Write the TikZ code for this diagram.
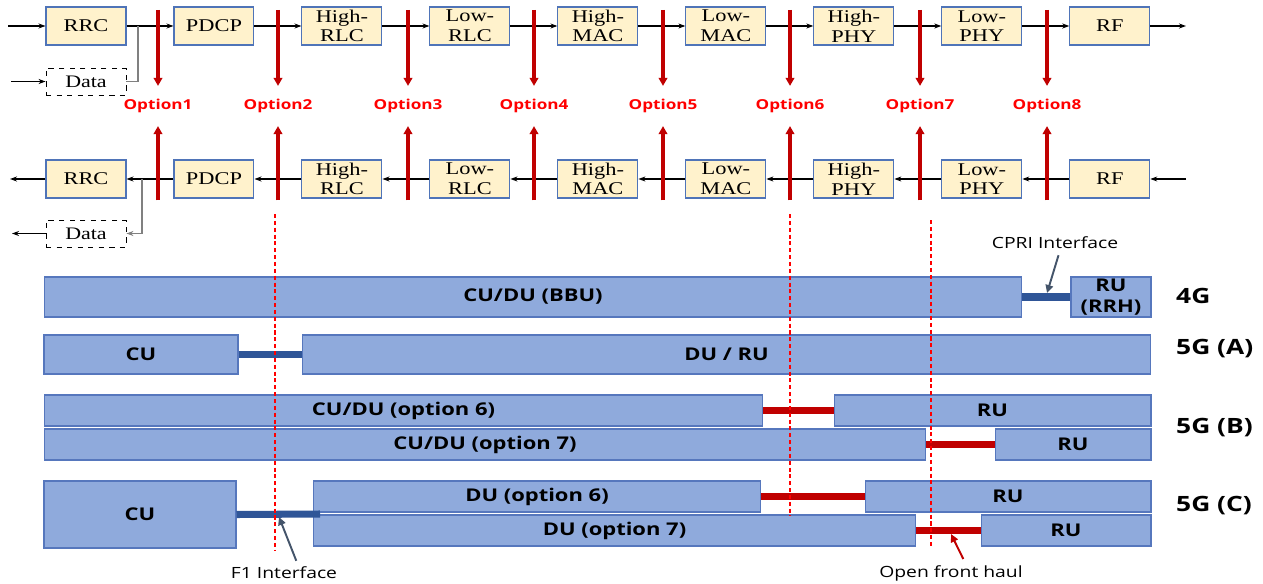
\documentclass[tikz,border=0pt]{standalone}
\usepackage{fontspec}
\setmainfont[FakeStretch=1.25]{Liberation Serif}
\newfontfamily\labelfont[FakeStretch=1.25]{Open Sans}
\usepackage{xcolor}
\usepackage{tikz}
\usetikzlibrary{arrows.meta}
\definecolor{boxfill}{HTML}{FFF2CC}
\definecolor{boxedge}{HTML}{4F74B8}
\definecolor{barfill}{HTML}{8FAADC}
\definecolor{baredge}{HTML}{5677BD}
\definecolor{optred}{HTML}{C00000}
\definecolor{cutred}{HTML}{FF0000}
\definecolor{f1blue}{HTML}{2F5597}
\definecolor{notegray}{HTML}{44546A}
\tikzstyle{layer} = [rectangle, minimum width=1.6cm, minimum height=0.76cm, inner sep=0pt, align=center, draw=boxedge, line width=0.6pt, fill=boxfill, font=\fontsize{10.2}{11.2}\selectfont]
\tikzstyle{datafile} = [rectangle, minimum width=1.6cm, minimum height=0.54cm, inner sep=0pt, draw=black, dashed, line width=0.5pt, fill=white, font=\fontsize{10}{10.5}\selectfont]
\tikzstyle{arrow} = [line width=0.6pt, -{Stealth[length=1.4mm, width=1mm]}]
\tikzstyle{tap} = [line width=0.6pt, draw=gray]
\tikzstyle{optlabel} = [text=cutred, font=\labelfont\bfseries\fontsize{7.8}{9}\selectfont]
\tikzstyle{optarrow} = [line width=2pt, draw=optred, -{Triangle[length=1.6mm, width=1.7mm]}]
\tikzstyle{cut} = [line width=1.1pt, draw=cutred, dash pattern=on 2.3pt off 1.6pt]
\tikzstyle{bar} = [rectangle, draw=baredge, line width=0.6pt, fill=barfill, inner sep=0pt, align=center, font=\labelfont\bfseries\fontsize{10}{12}\selectfont]
\tikzstyle{gen} = [anchor=west, font=\labelfont\bfseries\fontsize{12}{14}\selectfont]
\tikzstyle{f1link} = [line width=4pt, draw=f1blue]
\tikzstyle{fhlink} = [line width=4.2pt, draw=optred]
\tikzstyle{notetext} = [font=\labelfont\fontsize{8.8}{10}\selectfont]
\tikzstyle{note} = [line width=1.1pt, draw=notegray, -{Triangle[length=1.6mm, width=1.5mm]}]

\begin{document}
\begin{tikzpicture}[x=0.02cm, y=-0.02cm, node distance=2.56cm]
    \useasboundingbox (0,0) rectangle (1263,584);

        % Downlink chain
        \node (rrcT) [layer] at (86,26) {RRC};
        \node (pdcpT) [layer, right of=rrcT] {PDCP};
        \node (hrlcT) [layer, right of=pdcpT] {High-\\RLC};
        \node (lrlcT) [layer, right of=hrlcT] {Low-\\RLC};
        \node (hmacT) [layer, right of=lrlcT] {High-\\MAC};
        \node (lmacT) [layer, right of=hmacT] {Low-\\MAC};
        \node (hphyT) [layer, right of=lmacT] {High-\\PHY};
        \node (lphyT) [layer, right of=hphyT] {Low-\\PHY};
        \node (rfT) [layer, right of=lphyT] {RF};
        \node (dataT) [datafile] at (86,81.5) {Data};

        % Uplink chain
        \node (rrcB) [layer] at (86,179) {RRC};
        \node (pdcpB) [layer, right of=rrcB] {PDCP};
        \node (hrlcB) [layer, right of=pdcpB] {High-\\RLC};
        \node (lrlcB) [layer, right of=hrlcB] {Low-\\RLC};
        \node (hmacB) [layer, right of=lrlcB] {High-\\MAC};
        \node (lmacB) [layer, right of=hmacB] {Low-\\MAC};
        \node (hphyB) [layer, right of=lmacB] {High-\\PHY};
        \node (lphyB) [layer, right of=hphyB] {Low-\\PHY};
        \node (rfB) [layer, right of=lphyB] {RF};
        \node (dataB) [datafile] at (86,233.5) {Data};

        % Free ends
        \coordinate (inT) at (8,26);
        \coordinate (outT) at (1186,26);
        \coordinate (dataInT) at (11,81.5);
        \coordinate (tapT) at (138,26);
        \coordinate (outB) at (10,179);
        \coordinate (inB) at (1186,179);
        \coordinate (dataOutB) at (12,233.5);
        \coordinate (tapB) at (142,179);

        % Chain arrows
        \draw [arrow] (inT) -- (rrcT.west);
        \draw [arrow] (rrcT) -- (pdcpT);
        \draw [arrow] (pdcpT) -- (hrlcT);
        \draw [arrow] (hrlcT) -- (lrlcT);
        \draw [arrow] (lrlcT) -- (hmacT);
        \draw [arrow] (hmacT) -- (lmacT);
        \draw [arrow] (lmacT) -- (hphyT);
        \draw [arrow] (hphyT) -- (lphyT);
        \draw [arrow] (lphyT) -- (rfT);
        \draw [arrow] (rfT.east) -- (outT);
        \draw [arrow] (dataInT) -- (dataT.west);
        \draw [tap] (dataT.east) -| (tapT);

        \draw [arrow] (inB) -- (rfB.east);
        \draw [arrow] (rfB) -- (lphyB);
        \draw [arrow] (lphyB) -- (hphyB);
        \draw [arrow] (hphyB) -- (lmacB);
        \draw [arrow] (lmacB) -- (hmacB);
        \draw [arrow] (hmacB) -- (lrlcB);
        \draw [arrow] (lrlcB) -- (hrlcB);
        \draw [arrow] (hrlcB) -- (pdcpB);
        \draw [arrow] (pdcpB) -- (rrcB);
        \draw [arrow] (rrcB.west) -- (outB);
        \draw [arrow] (dataB.west) -- (dataOutB);
        \draw [tap, arrow] (tapB) |- (dataB.east);

        % Split options
        \node (opt1) [optlabel] at (158,106) {Option1};
        \node (opt2) [optlabel] at (278,106) {Option2};
        \node (opt3) [optlabel] at (408,106) {Option3};
        \node (opt4) [optlabel] at (534,106) {Option4};
        \node (opt5) [optlabel] at (663,106) {Option5};
        \node (opt6) [optlabel] at (790,106) {Option6};
        \node (opt7) [optlabel] at (920,106) {Option7};
        \node (opt8) [optlabel] at (1047,106) {Option8};

        \draw [optarrow] ([yshift=-2pt]opt1 |- rrcT.north) -- ([yshift=4pt]opt1.north);
        \draw [optarrow] ([yshift=-2pt]opt2 |- rrcT.north) -- ([yshift=4pt]opt2.north);
        \draw [optarrow] ([yshift=-2pt]opt3 |- rrcT.north) -- ([yshift=4pt]opt3.north);
        \draw [optarrow] ([yshift=-2pt]opt4 |- rrcT.north) -- ([yshift=4pt]opt4.north);
        \draw [optarrow] ([yshift=-2pt]opt5 |- rrcT.north) -- ([yshift=4pt]opt5.north);
        \draw [optarrow] ([yshift=-2pt]opt6 |- rrcT.north) -- ([yshift=4pt]opt6.north);
        \draw [optarrow] ([yshift=-2pt]opt7 |- rrcT.north) -- ([yshift=4pt]opt7.north);
        \draw [optarrow] ([yshift=-2pt]opt8 |- rrcT.north) -- ([yshift=4pt]opt8.north);

        \draw [optarrow] ([yshift=-1pt]opt1 |- rrcB.south) -- ([yshift=-4pt]opt1.south);
        \draw [optarrow] ([yshift=-1pt]opt2 |- rrcB.south) -- ([yshift=-4pt]opt2.south);
        \draw [optarrow] ([yshift=-1pt]opt3 |- rrcB.south) -- ([yshift=-4pt]opt3.south);
        \draw [optarrow] ([yshift=-1pt]opt4 |- rrcB.south) -- ([yshift=-4pt]opt4.south);
        \draw [optarrow] ([yshift=-1pt]opt5 |- rrcB.south) -- ([yshift=-4pt]opt5.south);
        \draw [optarrow] ([yshift=-1pt]opt6 |- rrcB.south) -- ([yshift=-4pt]opt6.south);
        \draw [optarrow] ([yshift=-1pt]opt7 |- rrcB.south) -- ([yshift=-4pt]opt7.south);
        \draw [optarrow] ([yshift=-1pt]opt8 |- rrcB.south) -- ([yshift=-4pt]opt8.south);

        % Deployments
        \node (bbu) [bar, minimum width=19.56cm, minimum height=0.8cm] at (533,297) {CU/DU (BBU)};
        \node (rrh) [bar, minimum width=1.6cm, minimum height=0.8cm] at (1111,297) {RU\\(RRH)};
        \node (cuA) [bar, minimum width=3.88cm, minimum height=0.78cm] at (141,354.5) {CU};
        \node (duruA) [bar, minimum width=16.98cm, minimum height=0.78cm] at (726.5,354.5) {DU / RU};
        \node (cuduB6) [bar, minimum width=14.38cm, minimum height=0.62cm] at (403.5,410.5) {CU/DU (option 6)};
        \node (ruB6) [bar, minimum width=6.34cm, minimum height=0.62cm] at (992.5,410.5) {RU};
        \node (cuduB7) [bar, minimum width=17.64cm, minimum height=0.62cm] at (485,444.5) {CU/DU (option 7)};
        \node (ruB7) [bar, minimum width=3.12cm, minimum height=0.62cm] at (1073,444.5) {RU};
        \node (cuC) [bar, minimum width=3.84cm, minimum height=1.34cm] at (140,514.5) {CU};
        \node (duC6) [bar, minimum width=8.96cm, minimum height=0.62cm] at (537,496.5) {DU (option 6)};
        \node (ruC6) [bar, minimum width=5.72cm, minimum height=0.62cm] at (1008,496.5) {RU};
        \node (duC7) [bar, minimum width=12.06cm, minimum height=0.62cm] at (614.5,530.5) {DU (option 7)};
        \node (ruC7) [bar, minimum width=3.4cm, minimum height=0.62cm] at (1066,530.5) {RU};

        \node (g4) [gen] at (1170,296) {4G};
        \node (g5a) [gen] at (1170,349) {5G (A)};
        \node (g5b) [gen] at (1170,428) {5G (B)};
        \node (g5c) [gen] at (1170,506) {5G (C)};

        % Interfaces
        \coordinate (f1end) at (320,514);
        \draw [f1link] (bbu.east) -- (rrh.west);
        \draw [f1link] (cuA.east) -- (duruA.west);
        \draw [f1link] (cuC.east) -- (f1end);
        \draw [fhlink] (cuduB6.east) -- (ruB6.west);
        \draw [fhlink] (cuduB7.east) -- (ruB7.west);
        \draw [fhlink] (duC6.east) -- (ruC6.west);
        \draw [fhlink] (duC7.east) -- (ruC7.west);

        % Cut lines
        \coordinate (cut2a) at (275,214);
        \coordinate (cut2b) at (275,550);
        \coordinate (cut6a) at (790,214);
        \coordinate (cut6b) at (790,516);
        \coordinate (cut7a) at (931,220);
        \coordinate (cut7b) at (931,547);
        \draw [cut] (cut2a) -- (cut2b);
        \draw [cut] (cut6a) -- (cut6b);
        \draw [cut] (cut7a) -- (cut7b);

        % Annotations
        \node (cpri) [notetext] at (1055,243) {CPRI Interface};
        \node (f1) [notetext] at (284,573) {F1 Interface};
        \node (ofh) [notetext] at (951,573) {Open front haul};
        \coordinate (cpriTip) at (1047,293);
        \coordinate (f1Tip) at (279,517);
        \coordinate (ofhTip) at (951,534);
        \draw [note] ([xshift=2pt]cpri.south) -- (cpriTip);
        \draw [note] ([xshift=7pt]f1.north) -- (f1Tip);
        \draw [note, draw=optred] ([xshift=7pt]ofh.north) -- (ofhTip);
    \end{tikzpicture}
\end{document}
